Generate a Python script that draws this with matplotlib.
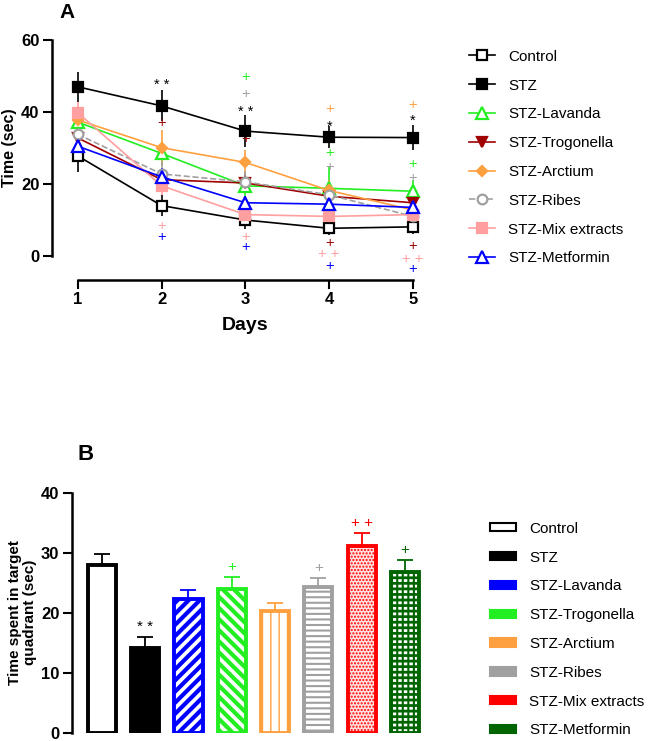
import matplotlib.pyplot as plt
from matplotlib.lines import Line2D
from matplotlib.patches import Patch

plt.rcParams['font.family'] = ['Liberation Sans', 'DejaVu Sans']

# ---- panel A data (escape latency, days 1-5) ----
days = [1, 2, 3, 4, 5]
groups = ["Control", "STZ", "STZ-Lavanda", "STZ-Trogonella", "STZ-Arctium",
          "STZ-Ribes", "STZ-Mix extracts", "STZ-Metformin"]

control = [27.8, 14.0, 10.0, 7.7, 8.1]
stz = [47.0, 41.7, 34.7, 33.0, 32.9]
lavanda = [37.2, 28.5, 19.5, 18.8, 18.0]
trogonella = [32.8, 21.2, 20.3, 16.6, 14.8]
arctium = [37.8, 30.1, 26.0, 18.2, 12.8]
ribes = [33.8, 22.8, 20.6, 17.0, 11.0]
mix = [39.8, 19.5, 11.5, 11.0, 11.5]
metformin = [30.5, 22.0, 14.8, 14.4, 13.5]

control_err = [4.5, 3.0, 2.5, 2.0, 2.0]
stz_err = [4.2, 4.3, 4.5, 3.0, 3.5]
lavanda_err = [3.0, 3.5, 3.5, 6.0, 3.0]
trogonella_err = [3.0, 2.5, 2.5, 2.5, 3.0]
arctium_err = [4.0, 5.0, 3.5, 3.0, 2.5]
ribes_err = [3.0, 3.5, 3.0, 3.0, 2.0]
mix_err = [3.0, 2.5, 2.0, 2.0, 2.0]
metformin_err = [3.0, 2.5, 2.0, 2.0, 2.0]

# significance marks in panel A: (day, y, text, colour)
marks_a = [
    (2, 47.6, "* *", "black"), (2, 37.0, "+", "#a00000"),
    (2, 8.4, "+", "#ff9f9f"), (2, 5.4, "+", "blue"),
    (3, 49.7, "+", "#22ee22"), (3, 45.0, "+", "#a0a0a0"),
    (3, 40.0, "* *", "black"), (3, 32.5, "+", "#a00000"),
    (3, 5.3, "+", "#ff9f9f"), (3, 2.6, "+", "blue"),
    (4, 40.8, "+", "#ffa040"), (4, 36.0, "*", "black"),
    (4, 28.6, "+", "#22ee22"), (4, 24.8, "+", "#a0a0a0"),
    (4, 3.6, "+", "#a00000"), (4, 0.5, "+ +", "#ff9f9f"),
    (4, -2.7, "+", "blue"),
    (5, 41.9, "+", "#ffa040"), (5, 37.5, "*", "black"),
    (5, 25.5, "+", "#22ee22"), (5, 21.8, "+", "#a0a0a0"),
    (5, 2.9, "+", "#a00000"), (5, -0.8, "+ +", "#ff9f9f"),
    (5, -3.7, "+", "blue"),
]

# ---- panel B data (time in target quadrant) ----
quadrant = [27.9, 14.1, 22.2, 24.0, 20.3, 24.2, 31.1, 26.8]
quadrant_err = [1.9, 1.9, 1.6, 2.0, 1.3, 1.6, 2.1, 1.9]
marks_b = ["", "* *", "", "+", "", "+", "+ +", "+"]

fig = plt.figure(figsize=(6.48, 7.41), dpi=100)

# ================= panel A =================
ax = fig.add_axes([0.080, 0.6545, 0.596, 0.2915])
series = [
    (control, control_err, "black", "s", "white", "-", 7),
    (stz, stz_err, "black", "s", "black", "-", 7),
    (lavanda, lavanda_err, "#22ee22", "^", "white", "-", 8),
    (trogonella, trogonella_err, "#a00000", "v", "#a00000", "-", 7),
    (arctium, arctium_err, "#ffa040", "D", "#ffa040", "-", 5),
    (ribes, ribes_err, "#a0a0a0", "o", "white", "--", 7),
    (mix, mix_err, "#ff9f9f", "s", "#ff9f9f", "-", 7),
    (metformin, metformin_err, "blue", "^", "white", "-", 8),
]
handles = []
for (vals, err, col, mk, fc, ls, ms), name in zip(series, groups):
    ax.errorbar(days, vals, yerr=err, color=col, ecolor=col, elinewidth=1.2,
                capsize=0, lw=1.2, ls=ls, marker=mk, ms=ms, mfc=fc, mec=col,
                mew=1.6, clip_on=False, zorder=3)
    handles.append(Line2D([0], [0], color=col, lw=1.2, ls=ls, marker=mk,
                          ms=ms, mfc=fc, mec=col, mew=1.6))

for d, y, txt, col in marks_a:
    ax.text(d, y, txt, color=col, ha="center", va="center", fontsize=10.5,
            clip_on=False)

ax.set_xlim(0.69, 5.3)
ax.set_ylim(0, 60)
ax.set_yticks([0, 20, 40, 60])
ax.set_xticks(days)
ax.spines[["top", "right"]].set_visible(False)
ax.spines["left"].set_bounds(0, 60)
ax.spines["bottom"].set_bounds(1, 5)
ax.spines["bottom"].set_position(("outward", 17))
for s in ["left", "bottom"]:
    ax.spines[s].set_linewidth(1.8)
ax.tick_params(width=1.5, length=6.5, labelsize=12, pad=2.5)
for lab in ax.get_xticklabels() + ax.get_yticklabels():
    lab.set_fontweight("bold")
ax.set_xlabel("Days", fontsize=14, fontweight="bold", labelpad=7)
ax.set_ylabel("Time (sec)", fontsize=11.5, fontweight="bold", labelpad=3)
fig.text(67 / 648, 1 - 12 / 741, "A", fontsize=15, fontweight="bold",
         ha="center", va="center")

fig.legend(handles, groups, loc="upper left",
           bbox_to_anchor=(455 / 648, 1 - 36 / 741), frameon=False,
           fontsize=11, handlelength=1.7, handletextpad=0.9,
           labelspacing=0.97)

# ================= panel B =================
bx = fig.add_axes([0.1111, 0.0112, 0.544, 0.3239])
bar_cols = ["black", "black", "blue", "#22ee22", "#ffa040", "#a0a0a0",
            "red", "#006400"]
bar_face = ["white", "black", "white", "white", "white", "white",
            "#ffe0e0", "#006400"]
hatch_col = ["white", "black", "blue", "#22ee22", "#ffa040", "#a0a0a0",
             "red", "white"]
hatches = [None, None, "///", "\\\\\\", "||", "---", ".....", "---"]
hatch_lw = [1, 1, 3.0, 3.0, 1.0, 1.5, 1.0, 2.0]
pos = list(range(len(groups)))

for i in pos:
    b = bx.bar(i, quadrant[i], width=0.65, color=bar_face[i],
               edgecolor=hatch_col[i], hatch=hatches[i], lw=0, zorder=2)
    if hasattr(b[0], "set_hatch_linewidth"):
        b[0].set_hatch_linewidth(hatch_lw[i])
    if i == 7:
        # break the white stripes into brick-like dashes
        b2 = bx.bar(i, quadrant[i], width=0.65, fill=False,
                    edgecolor=bar_cols[i], hatch="|||", lw=0, zorder=2.5)
        if hasattr(b2[0], "set_hatch_linewidth"):
            b2[0].set_hatch_linewidth(1.5)
    bx.bar(i, quadrant[i], width=0.65, fill=False, edgecolor=bar_cols[i],
           lw=2.8, zorder=3)
    bx.errorbar(i, quadrant[i], yerr=[[0], [quadrant_err[i]]],
                color=bar_cols[i], capsize=6, elinewidth=1.3, capthick=1.3,
                zorder=1)
    if marks_b[i]:
        bx.text(i, quadrant[i] + quadrant_err[i] + 0.5, marks_b[i],
                color=bar_cols[i], ha="center", va="bottom", fontsize=11)

bx.set_xlim(-0.69, 7.45)
bx.set_ylim(0, 40)
bx.set_yticks([0, 10, 20, 30, 40])
bx.set_xticks([])
bx.spines[["top", "right", "bottom"]].set_visible(False)
bx.spines["left"].set_linewidth(1.8)
bx.tick_params(width=1.5, length=6.5, labelsize=12, pad=2.5)
for lab in bx.get_yticklabels():
    lab.set_fontweight("bold")
bx.set_ylabel("Time spent in target\nquadrant (sec)", fontsize=11,
              fontweight="bold", labelpad=3, linespacing=1.1)
fig.text(86 / 648, 1 - 455 / 741, "B", fontsize=16, fontweight="bold",
         ha="center", va="center")

bar_handles = []
for i in pos:
    fc = bar_cols[i] if i != 0 else "white"
    bar_handles.append(Patch(facecolor=fc, edgecolor=bar_cols[i], lw=1.5))
fig.legend(bar_handles, groups, loc="upper left",
           bbox_to_anchor=(476 / 648, 1 - 508 / 741), frameon=False,
           fontsize=11, handlelength=1.7, handleheight=0.45,
           handletextpad=0.9, labelspacing=0.97)

fig.savefig("out.png", dpi=100)
